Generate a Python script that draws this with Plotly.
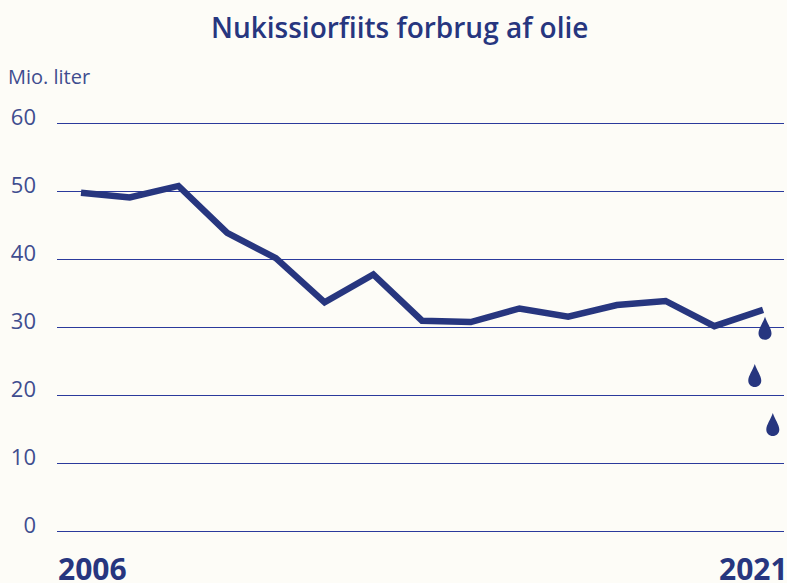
import plotly.graph_objects as go

point_index = list(range(15))
consumption = [49.8, 49.1, 50.8, 43.9, 40.2, 33.7, 37.8, 31.0, 30.8, 32.8, 31.6, 33.3, 33.9, 30.2, 32.6]
y_ticks = [0, 10, 20, 30, 40, 50, 60]
title_text = "Nukissiorfiits forbrug af olie"
unit_text = "Mio. liter"
first_year = "2006"
last_year = "2021"
drop_x = [14.04, 13.83, 14.2]
drop_y = [28.2, 21.25, 14.05]

NAVY = "#27367f"
SOFT = "#3f4d8f"
BG = "#fdfcf7"
FONT = "Open Sans"

DROP_PATH = "M 0 23 C -2 17 -6.5 11 -6.5 6.5 C -6.5 2.5 -3.5 0 0 0 C 3.5 0 6.5 2.5 6.5 6.5 C 6.5 11 2 17 0 23 Z"

fig = go.Figure(go.Scatter(
    x=point_index, y=consumption, mode="lines",
    line=dict(color=NAVY, width=6.5), hoverinfo="skip", showlegend=False,
))

shapes = [dict(type="path", xref="x", yref="y", xsizemode="pixel", ysizemode="pixel",
               xanchor=x, yanchor=y, path=DROP_PATH, fillcolor=NAVY, line=dict(width=0))
          for x, y in zip(drop_x, drop_y)]

annotations = [
    dict(text=title_text, xref="paper", yref="paper", x=0, xanchor="center", y=1, yanchor="middle",
         yshift=95, xshift=342, showarrow=False, font=dict(family=FONT, size=28, color=NAVY, weight=600)),
    dict(text=unit_text, xref="paper", yref="paper", x=0, xanchor="left", y=1, yanchor="middle",
         xshift=-51, yshift=46, showarrow=False, font=dict(family=FONT, size=20, color=SOFT)),
    dict(text=first_year, xref="paper", yref="paper", x=0, xanchor="left", y=0, yanchor="middle",
         yshift=-35, xshift=-1, showarrow=False, font=dict(family=FONT, size=30, color=NAVY, weight=700)),
    dict(text=last_year, xref="paper", yref="paper", x=1, xanchor="right", y=0, yanchor="middle",
         yshift=-35, xshift=6, showarrow=False, font=dict(family=FONT, size=30, color=NAVY, weight=700)),
]

fig.update_layout(
    width=787, height=583, autosize=False,
    margin=dict(l=57, r=3, t=122, b=50, pad=0),
    paper_bgcolor=BG, plot_bgcolor=BG,
    shapes=shapes, annotations=annotations, showlegend=False,
)
fig.update_xaxes(range=[-0.493, 14.43], showgrid=False, zeroline=False, showticklabels=False, ticks="", fixedrange=True)
fig.update_yaxes(range=[-0.2, 60.2], tickvals=y_ticks, showgrid=True, gridcolor="#2b3a9c", gridwidth=1.4,
                 zeroline=False, showline=False, ticks="", ticklabelstandoff=20, ticklabelshift=-6,
                 tickfont=dict(family=FONT, size=22, color=SOFT), fixedrange=True)

fig.write_html("out.html", config=dict(displayModeBar=False),
               post_script=f"document.body.style.margin='0';document.body.style.background='{BG}';")
